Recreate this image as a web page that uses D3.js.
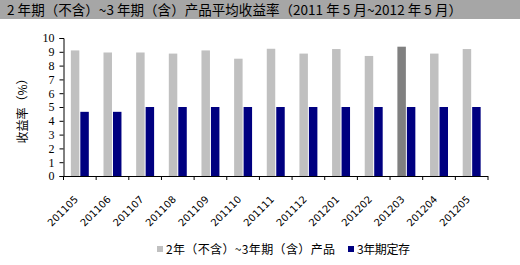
<!DOCTYPE html>
<html>
<head>
<meta charset="utf-8">
<script src="https://cdn.jsdelivr.net/npm/d3@7"></script>
<style>
  body { margin: 0; background: #fff; }
  svg { display: block; }
  .tick text { font-family: "Liberation Serif", "DejaVu Serif", serif; font-size: 12px; fill: #000; }
</style>
</head>
<body>
<div id="chart"></div>
<script>
// data
var months = ["201105", "201106", "201107", "201108", "201109", "201110", "201111",
  "201112", "201201", "201202", "201203", "201204", "201205"];
var product = [9.1, 8.95, 8.95, 8.87, 9.1, 8.5, 9.22, 8.87, 9.2, 8.7, 9.37, 8.87, 9.2];
var deposit = [4.65, 4.65, 5, 5, 5, 5, 5, 5, 5, 5, 5, 5, 5];
var yTicks = [0, 1, 2, 3, 4, 5, 6, 7, 8, 9, 10];
var seriesNames = ["2年（不含）~3年期（含）产品", "3年期定存"];
var highlight = "201203";

var svgWidth = 520;
var svgHeight = 265;
var margin = { top: 38, right: 32, bottom: 89, left: 63.5 };
var width = svgWidth - margin.left - margin.right;
var height = svgHeight - margin.top - margin.bottom;

var svg = d3.select("#chart")
  .append("svg")
  .attr("width", svgWidth)
  .attr("height", svgHeight);

// title bar
svg.append("rect")
  .attr("x", 0).attr("y", 0)
  .attr("width", svgWidth).attr("height", 19)
  .attr("fill", "#a6a6a6");

svg.append("text")
  .attr("x", 7).attr("y", 14.5)
  .attr("font-family", "Noto Sans CJK SC")
  .attr("font-size", 13.5)
  .attr("textLength", 455)
  .attr("lengthAdjust", "spacing")
  .attr("fill", "#000")
  .text("2 年期（不含）~3 年期（含）产品平均收益率（2011 年 5 月~2012 年 5 月）");

var chartGroup = svg.append("g")
  .attr("transform", `translate(${margin.left}, ${margin.top})`);

var x = d3.scaleBand()
  .domain(months)
  .range([0, width])
  .paddingInner(0.45)
  .paddingOuter(0.225);

var xOuter = d3.scaleBand()
  .domain(months)
  .range([0, width]);

var y = d3.scaleLinear()
  .domain([0, 10])
  .range([height, 0]);

var barW = x.bandwidth() / 2;

// gray product bars
chartGroup.selectAll(".prod")
  .data(months)
  .enter()
  .append("rect")
  .attr("class", "prod")
  .attr("x", d => x(d))
  .attr("y", (d, i) => y(product[i]))
  .attr("width", barW - 0.5)
  .attr("height", (d, i) => height - y(product[i]))
  .attr("fill", d => d === highlight ? "#808080" : "#c0c0c0");

// blue deposit bars
chartGroup.selectAll(".dep")
  .data(months)
  .enter()
  .append("rect")
  .attr("class", "dep")
  .attr("x", d => x(d) + barW + 0.5)
  .attr("y", (d, i) => y(deposit[i]))
  .attr("width", barW - 0.5)
  .attr("height", (d, i) => height - y(deposit[i]))
  .attr("fill", "#000080");

// y axis
var leftAxis = d3.axisLeft(y).tickValues(yTicks).tickSize(4).tickPadding(5);
var gy = chartGroup.append("g").call(leftAxis);
gy.select(".domain").attr("stroke", "#000");
gy.selectAll(".tick line").attr("stroke", "#000");

// x axis with ticks at category boundaries
var bounds = months.map(d => xOuter(d)).concat([width]);
chartGroup.append("line")
  .attr("x1", 0).attr("x2", width)
  .attr("y1", height + 0.5).attr("y2", height + 0.5)
  .attr("stroke", "#000");
chartGroup.selectAll(".xtick")
  .data(bounds)
  .enter()
  .append("line")
  .attr("x1", d => d).attr("x2", d => d)
  .attr("y1", height).attr("y2", height + 4)
  .attr("stroke", "#000");

chartGroup.selectAll(".xlab")
  .data(months)
  .enter()
  .append("text")
  .attr("transform", d => `translate(${xOuter(d) + xOuter.bandwidth() / 2 - 1}, ${height + 24}) rotate(-45)`)
  .attr("text-anchor", "end")
  .attr("font-family", "DejaVu Sans")
  .attr("font-size", 10)
  .attr("fill", "#000")
  .text(d => d);

// y axis title
svg.append("text")
  .attr("transform", `translate(27, ${margin.top + height / 2 + 1}) rotate(-90)`)
  .attr("text-anchor", "middle")
  .attr("font-family", "Noto Sans CJK SC")
  .attr("font-size", 12)
  .attr("fill", "#000")
  .text("收益率（%）");

// legend
var legendX = [157, 348];
var legendLen = [169, 53];
var legend = svg.selectAll(".legend")
  .data(seriesNames)
  .enter()
  .append("g")
  .attr("transform", (d, i) => `translate(${legendX[i]}, 246)`);

legend.append("rect")
  .attr("x", 0).attr("y", 0)
  .attr("width", 6).attr("height", 6)
  .attr("fill", (d, i) => i === 0 ? "#c0c0c0" : "#000080");

legend.append("text")
  .attr("x", 9).attr("y", 7.5)
  .attr("font-family", "Noto Sans CJK SC")
  .attr("font-size", 12)
  .attr("textLength", (d, i) => legendLen[i])
  .attr("lengthAdjust", "spacing")
  .attr("fill", "#000")
  .text(d => d);
</script>
</body>
</html>
